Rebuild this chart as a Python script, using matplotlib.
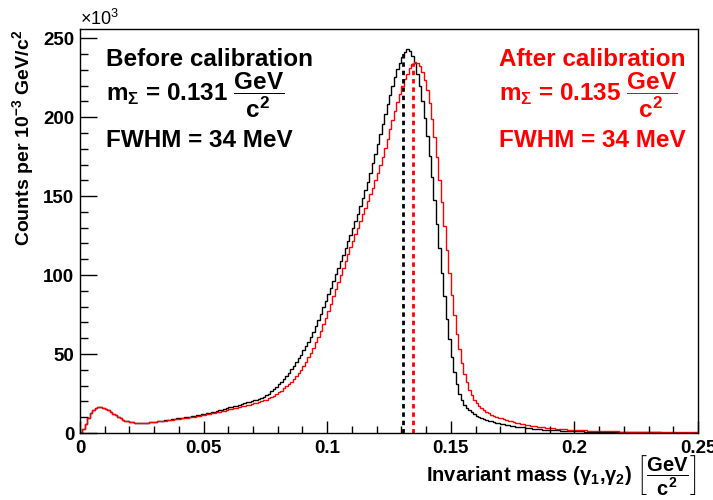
import numpy as np
import matplotlib
matplotlib.use('Agg')
import matplotlib.pyplot as plt
from matplotlib.ticker import MultipleLocator, FixedLocator, FixedFormatter

plt.rcParams['font.family'] = 'Liberation Sans'
plt.rcParams['mathtext.fontset'] = 'custom'
plt.rcParams['mathtext.rm'] = 'Liberation Sans:bold'
plt.rcParams['mathtext.bf'] = 'Liberation Sans:bold'
plt.rcParams['mathtext.it'] = 'Liberation Sans:bold'
plt.rcParams['mathtext.default'] = 'regular'

# histogram: 250 bins of 1 MeV from 0 to 0.25 GeV/c^2, counts in units of 10^3
bin_lo, bin_hi, n_bins = 0.0, 0.25, 250

counts_before = [
    0.3, 2.5, 6.0, 9.5, 12.5, 14.5, 15.8, 16.3, 16.3, 16.0,
    15.3, 14.4, 13.4, 12.3, 11.2, 10.2, 9.3, 8.5, 7.9, 7.4,
    7.0, 6.7, 6.5, 6.4, 6.4, 6.4, 6.5, 6.6, 6.8, 7.0,
    7.2, 7.4, 7.6, 7.8, 8.0, 8.2, 8.5, 8.7, 9.0, 9.2,
    9.4, 9.7, 9.9, 10.2, 10.4, 10.7, 10.9, 11.2, 11.5, 11.8,
    12.1, 12.4, 12.8, 13.1, 13.5, 13.9, 14.3, 14.7, 15.2, 15.7,
    16.2, 16.6, 17.0, 17.4, 17.9, 18.4, 18.9, 19.4, 19.9, 20.3,
    20.7, 21.1, 21.6, 22.3, 23.0, 23.9, 25.0, 26.3, 27.8, 29.4,
    31.0, 32.6, 34.3, 36.2, 38.2, 40.3, 42.5, 44.8, 47.2, 49.7,
    52.3, 55.0, 57.8, 60.8, 64.2, 67.8, 71.5, 75.4, 79.5, 83.6,
    87.8, 92.0, 96.2, 100.4, 104.6, 108.8, 113.0, 117.2, 121.4, 125.6,
    129.8, 134.2, 138.8, 143.6, 148.6, 153.8, 159.2, 164.9, 170.8, 176.9,
    183.1, 189.4, 195.7, 202.0, 208.2, 214.2, 220.0, 225.4, 230.3, 234.5,
    238.0, 241.0, 243.0, 242.0, 239.0, 234.0, 227.5, 219.5, 210.0, 199.5,
    188.0, 175.5, 162.0, 147.5, 132.5, 117.0, 101.5, 86.5, 72.5, 59.5,
    48.0, 38.5, 31.0, 25.0, 20.8, 18.0, 16.0, 14.3, 13.0, 11.9,
    11.0, 10.2, 9.5, 8.9, 8.3, 7.8, 7.3, 6.9, 6.5, 6.1,
    5.8, 5.5, 5.2, 4.9, 4.6, 4.4, 4.1, 3.9, 3.7, 3.5,
    3.3, 3.1, 2.9, 2.8, 2.6, 2.5, 2.3, 2.2, 2.1, 2.0,
    1.9, 1.8, 1.7, 1.6, 1.5, 1.4, 1.4, 1.3, 1.2, 1.2,
    1.1, 1.1, 1.0, 1.0, 0.9, 0.9, 0.9, 0.8, 0.8, 0.8,
    0.7, 0.7, 0.7, 0.7, 0.6, 0.6, 0.6, 0.6, 0.6, 0.5,
    0.5, 0.5, 0.5, 0.5, 0.5, 0.5, 0.4, 0.4, 0.4, 0.4,
    0.4, 0.4, 0.4, 0.4, 0.4, 0.3, 0.3, 0.3, 0.3, 0.3,
    0.3, 0.3, 0.3, 0.3, 0.3, 0.3, 0.3, 0.3, 0.3, 0.3,
]

counts_after = [
    0.3, 2.5, 6.0, 9.5, 12.5, 14.5, 15.8, 16.3, 16.3, 16.0,
    15.3, 14.4, 13.4, 12.3, 11.2, 10.2, 9.3, 8.5, 7.9, 7.4,
    7.0, 6.7, 6.5, 6.4, 6.4, 6.4, 6.5, 6.6, 6.7, 6.9,
    7.1, 7.3, 7.5, 7.7, 7.9, 8.1, 8.3, 8.5, 8.7, 8.9,
    9.1, 9.3, 9.5, 9.7, 10.0, 10.2, 10.4, 10.7, 10.9, 11.2,
    11.5, 11.8, 12.1, 12.4, 12.7, 13.0, 13.4, 13.7, 14.1, 14.5,
    14.9, 15.3, 15.7, 16.0, 16.4, 16.8, 17.2, 17.6, 18.0, 18.4,
    18.8, 19.2, 19.6, 20.1, 20.6, 21.2, 21.9, 22.7, 23.6, 24.6,
    25.7, 26.9, 28.2, 29.6, 31.0, 32.5, 34.1, 35.9, 37.9, 40.1,
    42.5, 45.1, 47.9, 50.9, 54.1, 57.5, 61.1, 64.9, 68.9, 73.1,
    77.5, 82.0, 86.6, 91.2, 95.8, 100.3, 104.7, 109.0, 113.3, 117.5,
    121.7, 125.9, 130.1, 134.3, 138.5, 142.7, 146.9, 151.1, 155.4, 159.9,
    164.6, 169.6, 174.9, 180.5, 186.3, 192.2, 198.1, 203.9, 209.5, 214.8,
    219.6, 223.9, 227.6, 231.0, 233.8, 235.0, 234.3, 232.3, 228.8, 223.8,
    217.3, 209.0, 199.0, 187.5, 174.5, 160.5, 146.0, 131.0, 116.0, 101.5,
    87.5, 74.5, 62.5, 53.0, 44.5, 37.5, 32.0, 27.5, 24.0, 21.2,
    19.0, 17.2, 15.7, 14.4, 13.3, 12.4, 11.6, 10.9, 10.3, 9.7,
    9.2, 8.7, 8.2, 7.7, 7.3, 6.9, 6.5, 6.2, 5.9, 5.6,
    5.3, 5.0, 4.7, 4.5, 4.2, 4.0, 3.8, 3.6, 3.4, 3.2,
    3.0, 2.9, 2.7, 2.6, 2.5, 2.4, 2.3, 2.2, 2.1, 2.0,
    1.9, 1.8, 1.7, 1.7, 1.6, 1.5, 1.5, 1.4, 1.4, 1.3,
    1.3, 1.2, 1.2, 1.1, 1.1, 1.0, 1.0, 1.0, 0.9, 0.9,
    0.9, 0.8, 0.8, 0.8, 0.8, 0.7, 0.7, 0.7, 0.7, 0.7,
    0.6, 0.6, 0.6, 0.6, 0.6, 0.6, 0.5, 0.5, 0.5, 0.5,
    0.5, 0.5, 0.5, 0.5, 0.5, 0.4, 0.4, 0.4, 0.4, 0.4,
]

# fitted peak positions (dashed markers) and their heights
mean_before, top_before = 0.1305, 241.0
mean_after, top_after = 0.1347, 234.0

x_ticks = [0, 0.05, 0.1, 0.15, 0.2, 0.25]
x_ticklabels = ['0', '0.05', '0.1', '0.15', '0.2', '0.25']
y_ticks = [0, 50, 100, 150, 200, 250]

edges = np.linspace(bin_lo, bin_hi, n_bins + 1)

fig = plt.figure(figsize=(7.13, 5.0), dpi=100)
ax = fig.add_axes([80/713, 67/500, 618/713, 403.5/500])

ax.stairs(counts_before, edges, color='black', lw=1.0)
ax.stairs(counts_after, edges, color='red', lw=1.0)
ax.vlines(mean_before, 0, top_before, colors='black', lw=2.0, linestyles=(0, (1.6, 1.4)))
ax.vlines(mean_after, 0, top_after, colors='red', lw=2.0, linestyles=(0, (1.6, 1.4)))

ax.set_xlim(0, 0.25)
ax.set_ylim(0, 255.5)

ax.xaxis.set_major_locator(FixedLocator(x_ticks))
ax.xaxis.set_major_formatter(FixedFormatter(x_ticklabels))
ax.xaxis.set_minor_locator(MultipleLocator(0.01))
ax.yaxis.set_major_locator(FixedLocator(y_ticks))
ax.yaxis.set_minor_locator(MultipleLocator(10))
ax.tick_params(which='both', direction='in', top=False, right=False, width=1.0,
               labelsize=13.5)
ax.tick_params(axis='y', which='major', length=12, pad=4)
ax.tick_params(axis='y', which='minor', length=6)
ax.tick_params(axis='x', which='major', length=9, pad=5)
ax.tick_params(axis='x', which='minor', length=4.8)
for lab in ax.get_xticklabels() + ax.get_yticklabels():
    lab.set_fontweight('bold')
for sp in ax.spines.values():
    sp.set_linewidth(1.0)

ax.text(0.0, 1.0, r'$\times$10$^{3}$', transform=ax.transAxes, ha='left', va='bottom',
        fontsize=13)

fig.text(23/713, 1 - 30/500, r'Counts per 10$^{-3}$ GeV/c$^{2}$', rotation=90,
         ha='center', va='top', fontsize=14, fontweight='bold')
fig.text(697/713, 1 - 475/500,
         r'Invariant mass ($\gamma_{1}$,$\gamma_{2}$) $\left[\dfrac{GeV}{c^{2}}\right]$',
         ha='right', va='center', fontsize=14.5, fontweight='bold')

# annotation blocks
def block(x_px, color, title, mass):
    fig.text(x_px/713, 1 - 65.7/500, title,
             color=color, fontsize=17.5, fontweight='bold', va='baseline')
    fig.text(x_px/713, 1 - 101.7/500, r'm$_{\Sigma}$ = %s $\dfrac{GeV}{c^{2}}$' % mass,
             color=color, fontsize=17.5, fontweight='bold', va='baseline')
    fig.text(x_px/713, 1 - 146.7/500, 'FWHM = 34 MeV',
             color=color, fontsize=17.5, fontweight='bold', va='baseline')

block(106, 'black', 'Before calibration', '0.131')
block(499, 'red', 'After calibration', '0.135')

fig.savefig('out.png', dpi=100)
